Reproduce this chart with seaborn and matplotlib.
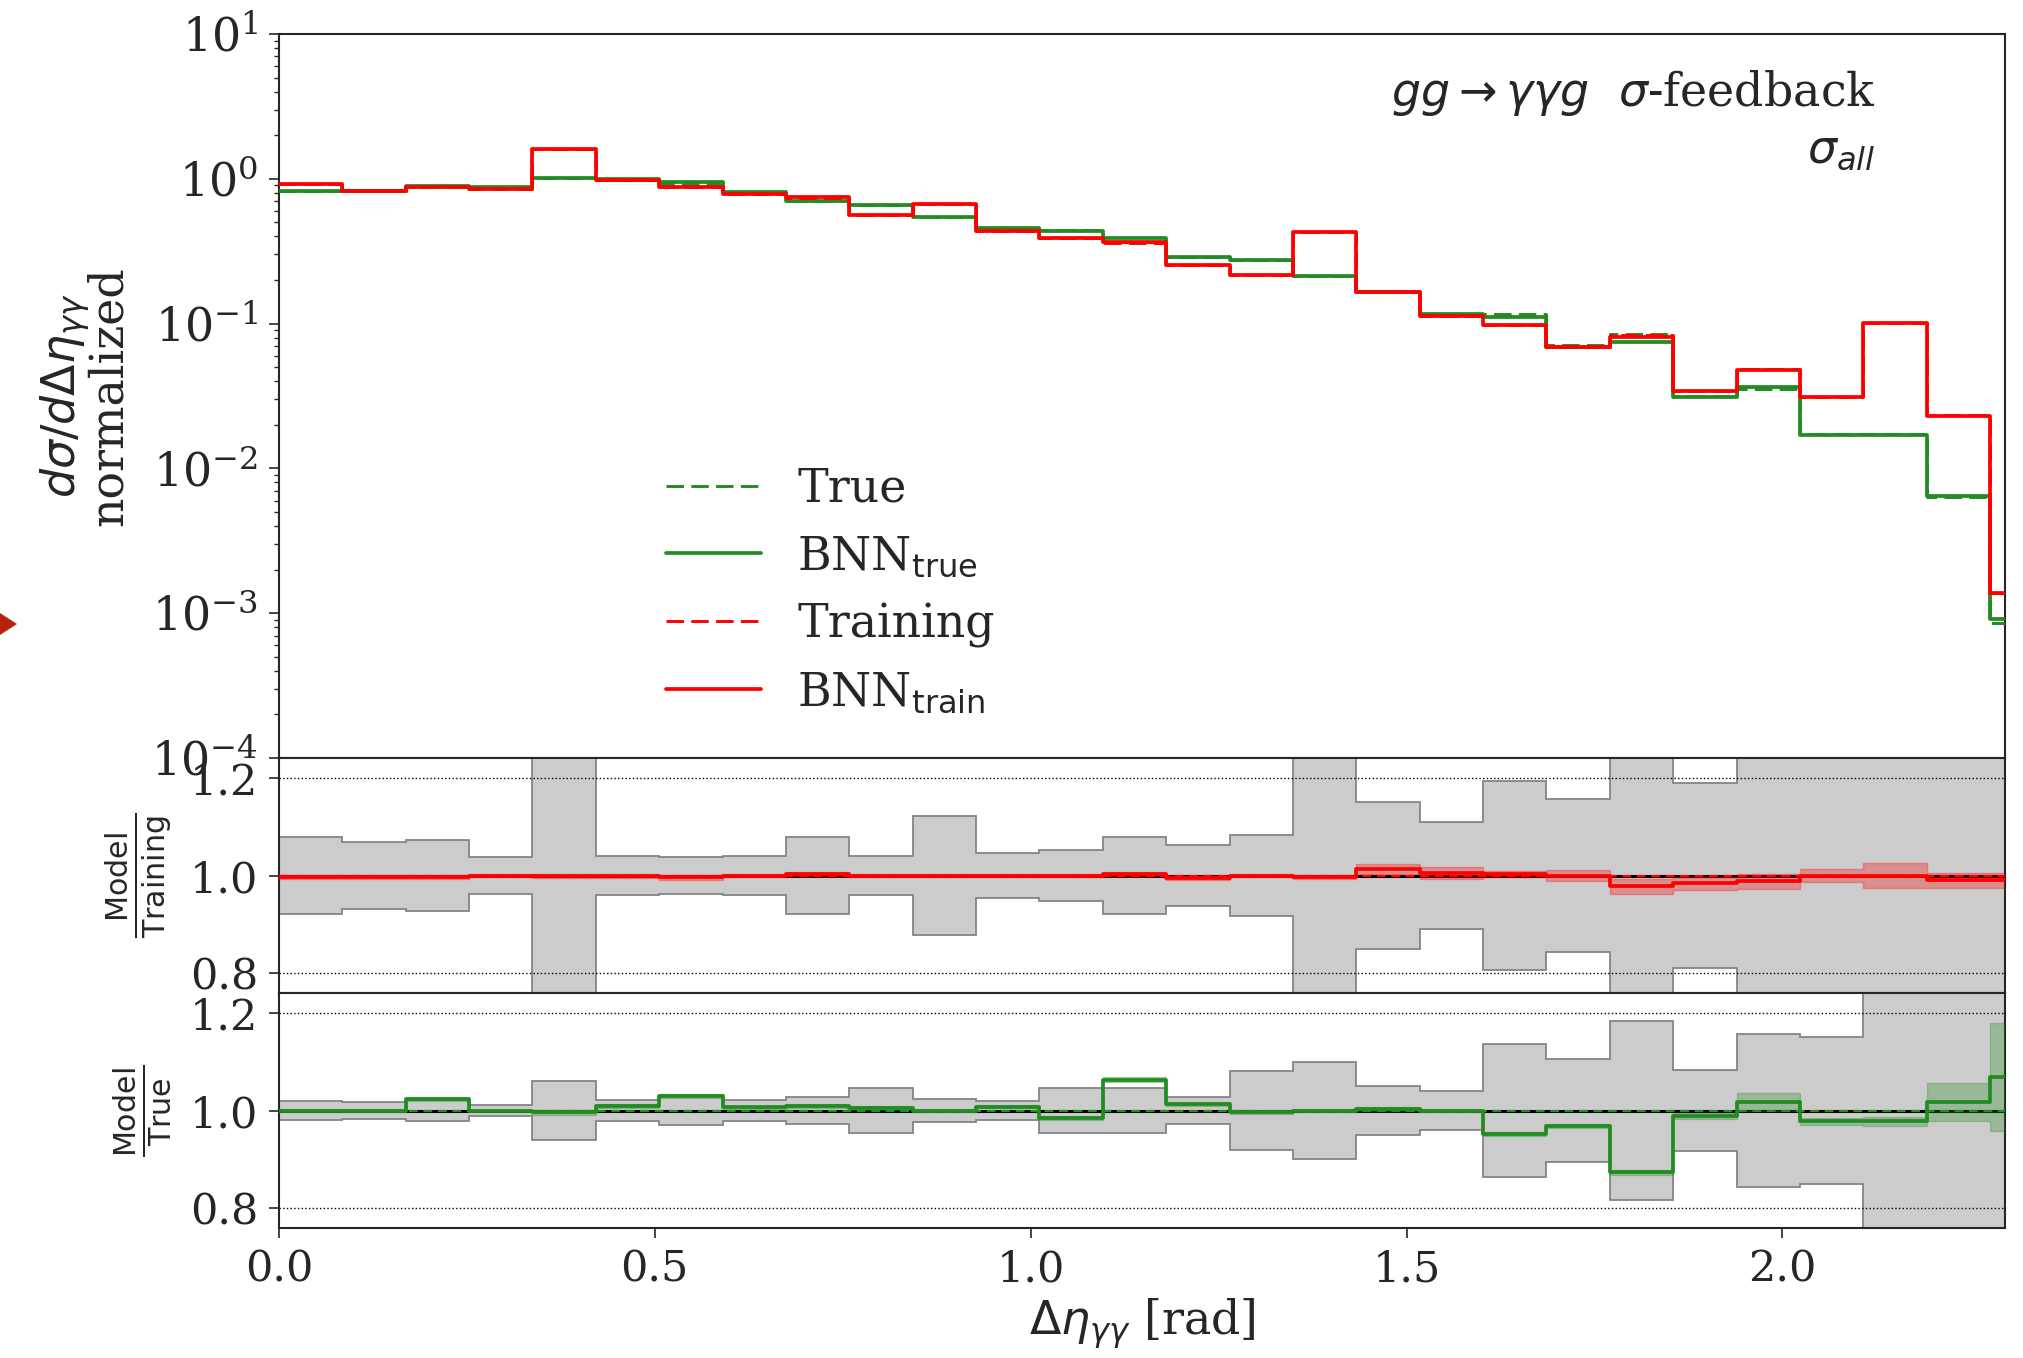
import numpy as np
import matplotlib
matplotlib.use("Agg")
import matplotlib.pyplot as plt
from matplotlib.lines import Line2D
from matplotlib.patches import Polygon
import seaborn as sns

# ---------------- data ----------------
bin_width = 0.0843
n_bins = 28
edges = np.arange(n_bins + 1) * bin_width
centers = edges[:-1] + bin_width / 2

bnn_train = [0.921, 0.828, 0.873, 0.850, 1.600, 0.985, 0.872, 0.785, 0.744, 0.565,
             0.670, 0.435, 0.390, 0.364, 0.254, 0.216, 0.426, 0.166, 0.1135, 0.098,
             0.0685, 0.0812, 0.0340, 0.0480, 0.0310, 0.1004, 0.0231, 0.00137]
training = [0.924, 0.831, 0.876, 0.850, 1.602, 0.986, 0.876, 0.785, 0.741, 0.565,
            0.670, 0.435, 0.390, 0.363, 0.255, 0.216, 0.427, 0.164, 0.1130, 0.0977,
            0.0685, 0.0830, 0.0345, 0.0486, 0.0310, 0.1004, 0.0233, 0.00138]
bnn_true = [0.828, 0.828, 0.896, 0.882, 1.006, 0.990, 0.944, 0.806, 0.706, 0.662,
            0.541, 0.458, 0.438, 0.390, 0.290, 0.276, 0.212, 0.166, 0.1165, 0.111,
            0.0690, 0.0745, 0.0313, 0.0362, 0.0169, 0.0170, 0.0064, 0.00091]
true_vals = [0.828, 0.828, 0.875, 0.883, 1.010, 0.981, 0.917, 0.800, 0.699, 0.658,
             0.541, 0.455, 0.445, 0.367, 0.286, 0.277, 0.212, 0.165, 0.1165, 0.1166,
             0.0712, 0.0852, 0.0317, 0.0356, 0.0173, 0.0174, 0.0063, 0.00085]

# Model / Training ratio panel
ratio_train = [0.997, 0.997, 0.997, 1.000, 0.999, 0.999, 0.996, 1.000, 1.004, 1.000,
               1.000, 1.000, 1.000, 1.003, 0.995, 1.000, 0.997, 1.014, 1.005, 1.003,
               1.000, 0.978, 0.984, 0.988, 1.000, 1.000, 0.990, 0.990]
ratio_train_err = [0.004, 0.004, 0.004, 0.003, 0.004, 0.004, 0.005, 0.003, 0.004, 0.003,
                   0.004, 0.003, 0.003, 0.004, 0.005, 0.004, 0.005, 0.010, 0.012, 0.006,
                   0.012, 0.015, 0.013, 0.015, 0.014, 0.025, 0.015, 0.015]
training_rel_unc = [0.078, 0.068, 0.072, 0.037, 1.0, 0.040, 0.038, 0.039, 0.079, 0.039,
                    0.122, 0.046, 0.053, 0.079, 0.063, 0.082, 1.0, 0.150, 0.110, 0.193,
                    0.156, 1.0, 0.190, 1.0, 1.0, 1.0, 1.0, 1.0]

# Model / True ratio panel
ratio_true = [1.000, 1.000, 1.024, 0.999, 0.996, 1.009, 1.029, 1.007, 1.010, 1.006,
              1.000, 1.0075, 0.985, 1.063, 1.014, 0.996, 1.000, 1.004, 1.000, 0.952,
              0.969, 0.874, 0.988, 1.017, 0.978, 0.978, 1.017, 1.069]
ratio_true_err = [0.004, 0.003, 0.004, 0.003, 0.005, 0.004, 0.004, 0.003, 0.004, 0.004,
                  0.003, 0.003, 0.004, 0.005, 0.004, 0.004, 0.003, 0.004, 0.003, 0.004,
                  0.004, 0.005, 0.006, 0.018, 0.007, 0.009, 0.039, 0.110]
true_rel_unc = [0.019, 0.017, 0.022, 0.012, 0.061, 0.021, 0.029, 0.022, 0.027, 0.045,
                0.024, 0.020, 0.045, 0.046, 0.028, 0.080, 0.100, 0.050, 0.039, 0.135,
                0.105, 0.183, 0.082, 0.157, 0.150, 1.0, 1.0, 1.0]

legend_labels = ["True", r"BNN$_\mathrm{true}$", "Training", r"BNN$_\mathrm{train}$"]
x_ticks = [0.0, 0.5, 1.0, 1.5, 2.0]
ratio_ticks = [0.8, 1.0, 1.2]

# ---------------- style ----------------
sns.set_style("ticks")
plt.rcParams["font.family"] = ["DejaVu Serif"]
plt.rcParams["mathtext.fontset"] = "dejavusans"
plt.rcParams["axes.linewidth"] = 1.5

GREEN = "#228B22"
RED = "#ff0000"
BAND = "#cccccc"
BAND_EDGE = "#858585"
TICK_FS = 31

fig = plt.figure(figsize=(20.24, 13.58), dpi=100)
ax0 = fig.add_axes([0.1378, 0.4418, 0.8528, 0.5332])
ax1 = fig.add_axes([0.1378, 0.2688, 0.8528, 0.1730])
ax2 = fig.add_axes([0.1378, 0.0957, 0.8528, 0.1731])

bin_list = edges.tolist()


def step(ax, vals, color, lw, dashed=False, z=3):
    kw = dict(dashes=(6, 2.5)) if dashed else {}
    sns.histplot(x=centers, weights=np.asarray(vals), bins=bin_list, element="step",
                 fill=False, color=color, linewidth=lw, ax=ax, zorder=z, **kw)


# ---------------- top panel ----------------
step(ax0, bnn_true, GREEN, 2.7, z=3)
step(ax0, true_vals, GREEN, 2.1, dashed=True, z=4)
step(ax0, bnn_train, RED, 2.7, z=5)
step(ax0, training, RED, 2.1, dashed=True, z=6)
ax0.set_yscale("log")
ax0.set_ylim(1e-4, 1e1)
ax0.set_xlim(0, 2.296)
ax0.set_ylabel("$d\\sigma/d\\Delta\\eta_{\\gamma\\gamma}$\nnormalized", fontsize=33,
               linespacing=0.85)
ax0.yaxis.set_label_coords(-0.085, 0.5)
ax0.set_xlabel("")
ax0.tick_params(axis="x", bottom=False, labelbottom=False)
ax0.tick_params(axis="y", which="major", labelsize=33, length=7, width=1.2, pad=8)
ax0.tick_params(axis="y", which="minor", length=3.5, width=1.0)

ax0.text(0.925, 0.9006, r"$gg\rightarrow\gamma\gamma g$  $\sigma$-feedback",
         transform=ax0.transAxes, ha="right", va="baseline", fontsize=33)
ax0.text(0.925, 0.823, r"$\sigma_{all}$", transform=ax0.transAxes,
         ha="right", va="baseline", fontsize=33)

handles = [Line2D([], [], color=GREEN, lw=2.1, dashes=(6, 2.5)),
           Line2D([], [], color=GREEN, lw=2.7),
           Line2D([], [], color=RED, lw=2.1, dashes=(6, 2.5)),
           Line2D([], [], color=RED, lw=2.7)]
ax0.legend(handles, legend_labels, loc="center left", bbox_to_anchor=(0.2245, 0.231),
           frameon=False, fontsize=33, handlelength=2.07, handletextpad=0.79,
           labelspacing=0.49, borderpad=0, borderaxespad=0)

# ---------------- ratio panels ----------------
def ratio_panel(ax, rel_unc, ratio, ratio_err, color, label):
    unc = np.array(rel_unc)
    ax.stairs(1 + unc, edges, baseline=1 - unc, fill=True, facecolor=BAND,
              edgecolor=BAND_EDGE, linewidth=1.3, zorder=1)
    for t in (0.8, 1.2):
        ax.axhline(t, color="black", ls=":", lw=1.0, zorder=2)
    ax.axhline(1.0, color="black", lw=2.2, zorder=3)
    ax.axhline(1.0, color=color, lw=1.6, dashes=(4, 2.5), zorder=4)
    r = np.array(ratio)
    e = np.array(ratio_err)
    ax.stairs(r + e, edges, baseline=r - e, fill=True, facecolor=color,
              alpha=0.3, edgecolor=color, linewidth=1.0, zorder=5)
    step(ax, ratio, color, 2.7, z=6)
    ax.set_ylim(0.76, 1.24)
    ax.set_xlim(0, 2.296)
    ax.set_yticks(ratio_ticks)
    ax.set_yticklabels([f"{t:.1f}" for t in ratio_ticks])
    ax.tick_params(axis="y", labelsize=TICK_FS, length=7, width=1.2, pad=8)
    ax.set_ylabel(label, fontsize=31)
    ax.yaxis.set_label_coords(-0.061, 0.5)


ratio_panel(ax1, training_rel_unc, ratio_train, ratio_train_err, RED,
            r"$\frac{\mathrm{Model}}{\mathrm{Training}}$")
ax1.tick_params(axis="x", bottom=False, labelbottom=False)
ax1.set_xlabel("")

ratio_panel(ax2, true_rel_unc, ratio_true, ratio_true_err, GREEN,
            r"$\frac{\mathrm{Model}}{\mathrm{True}}$")
ax2.set_xticks(x_ticks)
ax2.set_xticklabels([f"{t:.1f}" for t in x_ticks])
ax2.tick_params(axis="x", labelsize=TICK_FS, length=7, width=1.2, pad=8)
ax2.set_xlabel(r"$\Delta\eta_{\gamma\gamma}$ [rad]", fontsize=33, labelpad=4)

for ax in (ax0, ax1, ax2):
    for s in ax.spines.values():
        s.set_visible(True)
        s.set_linewidth(1.5)

# small red marker at the left margin of the reference slide
fig.add_artist(Polygon([[0.0, 1 - 613 / 1358], [17 / 2024, 1 - 624 / 1358],
                        [0.0, 1 - 635 / 1358]], closed=True,
                       transform=fig.transFigure, facecolor="#b82010",
                       edgecolor="none"))

fig.savefig("out.png", dpi=100)
